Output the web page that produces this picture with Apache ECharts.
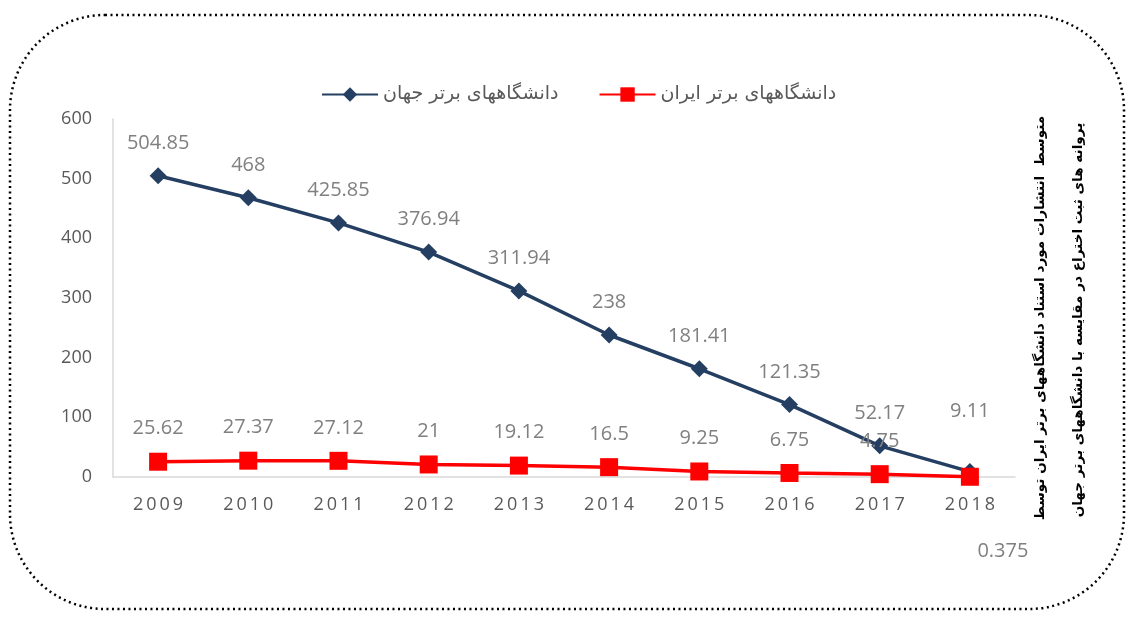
<!DOCTYPE html>
<html>
<head>
<meta charset="utf-8">
<script src="https://cdn.jsdelivr.net/npm/echarts@6/dist/echarts.min.js"></script>
<style>
  html, body { margin: 0; padding: 0; background: #fff; }
  #chart { width: 1131px; height: 618px; }
</style>
</head>
<body>
<div id="chart"></div>
<script>
const years = ['2009', '2010', '2011', '2012', '2013', '2014', '2015', '2016', '2017', '2018']
const worldValues = [504.85, 468, 425.85, 376.94, 311.94, 238, 181.41, 121.35, 52.17, 9.11]
const iranValues = [25.62, 27.37, 27.12, 21, 19.12, 16.5, 9.25, 6.75, 4.75, 0.375]
const worldName = 'دانشگاههای برتر جهان'
const iranName = 'دانشگاههای برتر ایران'
const sideTitle = [
  'متوسط  انتشارات مورد استناد دانشگاههای برتر ایران توسط',
  'پروانه های ثبت اختراع در مقایسه با دانشگاههای برتر جهان',
]

const chart = echarts.init(document.getElementById('chart'))
const font = '"Open Sans", "DejaVu Sans", sans-serif'
const labelGray = '#808080'

// last point of each series gets its own label spot
const worldData = worldValues.map((v, i) => i === worldValues.length - 1
  ? { value: v, label: { distance: 42 } }
  : v)
const iranData = iranValues.map((v, i) => i === iranValues.length - 1
  ? { value: v, label: { position: 'bottom', distance: 56, offset: [33, 0] } }
  : v)

const option = {
  backgroundColor: '#fff',
  animation: false,
  textStyle: { fontFamily: font },
  legend: {
    top: 80,
    left: 316,
    itemWidth: 56,
    itemHeight: 18,
    itemGap: 40,
    textStyle: { color: '#595959', fontSize: 19, fontFamily: '"DejaVu Sans", sans-serif' },
    data: [worldName, iranName],
  },
  grid: { left: 113, right: 116, top: 119, bottom: 141 },
  xAxis: {
    type: 'category',
    data: years,
    axisLine: { lineStyle: { color: '#d9d9d9', width: 1.5 } },
    axisTick: { show: false },
    axisLabel: {
      color: '#595959', fontSize: 18, margin: 19,
      formatter: (v) => v.split('').join('\u2009'),
    },
  },
  yAxis: {
    type: 'value',
    min: 0, max: 600, interval: 100,
    axisLine: { show: true, lineStyle: { color: '#d9d9d9', width: 1.5 } },
    axisTick: { show: false },
    splitLine: { show: false },
    axisLabel: { color: '#595959', fontSize: 18, margin: 21 },
  },
  series: [
    {
      name: worldName,
      type: 'line',
      data: worldData,
      symbol: 'diamond',
      symbolSize: 17,
      lineStyle: { color: '#253f63', width: 3.5 },
      itemStyle: { color: '#253f63' },
      label: { show: true, position: 'top', distance: 14, color: labelGray, fontSize: 20 },
      z: 2,
    },
    {
      name: iranName,
      type: 'line',
      data: iranData,
      symbol: 'rect',
      symbolSize: 18,
      lineStyle: { color: '#ff0000', width: 3.5 },
      itemStyle: { color: '#ff0000' },
      label: { show: true, position: 'top', distance: 14, color: labelGray, fontSize: 20 },
      z: 3,
    },
  ],
  graphic: [
    {
      type: 'rect',
      shape: { x: 10, y: 15, width: 1114, height: 594, r: 95 },
      style: { fill: 'none', stroke: '#000', lineWidth: 2.5, lineDash: [2, 3.5] },
      silent: true,
    },
    {
      type: 'text',
      x: 1040, y: 318,
      rotation: Math.PI / 2,
      style: {
        text: sideTitle[0], x: 0, y: 0, align: 'center', verticalAlign: 'middle',
        fill: '#000', font: 'bold 13.6px "DejaVu Sans", sans-serif',
      },
    },
    {
      type: 'text',
      x: 1078, y: 320,
      rotation: Math.PI / 2,
      style: {
        text: sideTitle[1], x: 0, y: 0, align: 'center', verticalAlign: 'middle',
        fill: '#000', font: 'bold 13.6px "DejaVu Sans", sans-serif',
      },
    },
  ],
}

chart.setOption(option)
</script>
</body>
</html>
